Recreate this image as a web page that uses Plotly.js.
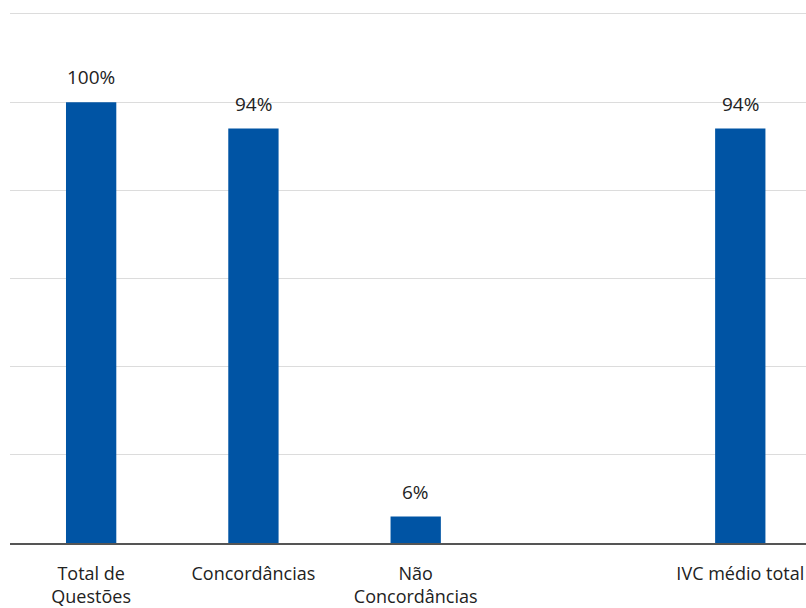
<!DOCTYPE html>
<html><head><meta charset="utf-8">
<script src="https://cdn.plot.ly/plotly-3.0.1.min.js"></script>
<style>html,body{margin:0;padding:0;background:#fff}#chart{width:806px;height:608px}</style>
</head><body><div id="chart"></div>
<script>
const categories = ["Total de<br>Questões", "Concordâncias", "Não<br>Concordâncias", " ", "IVC médio total"];
const values = [100, 94, 6, null, 94];
const labels = ["100%", "94%", "6%", "", "94%"];

const FONT = '"Open Sans", Lato, sans-serif';
const annotations = categories.map((c, i) => values[i] == null ? null : ({
  x: c, y: values[i], text: labels[i], showarrow: false,
  xref: 'x', yref: 'y', yanchor: 'bottom', yshift: 10,
  font: {family: FONT, size: 19, color: '#222'}
})).filter(a => a);

Plotly.newPlot('chart', [{
  type: 'bar', x: categories, y: values,
  marker: {color: '#0054A4'}, width: 0.31, hoverinfo: 'none'
}], {
  width: 806, height: 608,
  margin: {l: 10, r: 0, t: 12, b: 65},
  paper_bgcolor: '#fff', plot_bgcolor: '#fff',
  showlegend: false,
  xaxis: {
    type: 'category', range: [-0.5, 4.405],
    showline: true, linecolor: '#555', linewidth: 2,
    ticks: 'outside', ticklen: 13, tickcolor: 'rgba(0,0,0,0)',
    tickfont: {family: FONT, size: 18, color: '#222'},
    showgrid: false, zeroline: false
  },
  yaxis: {
    range: [0, 120.45], dtick: 20, showticklabels: false,
    showgrid: true, gridcolor: '#dcdcdc', gridwidth: 1,
    zeroline: false, showline: false
  },
  annotations: annotations
}, {displayModeBar: false, staticPlot: true});
</script></body></html>
